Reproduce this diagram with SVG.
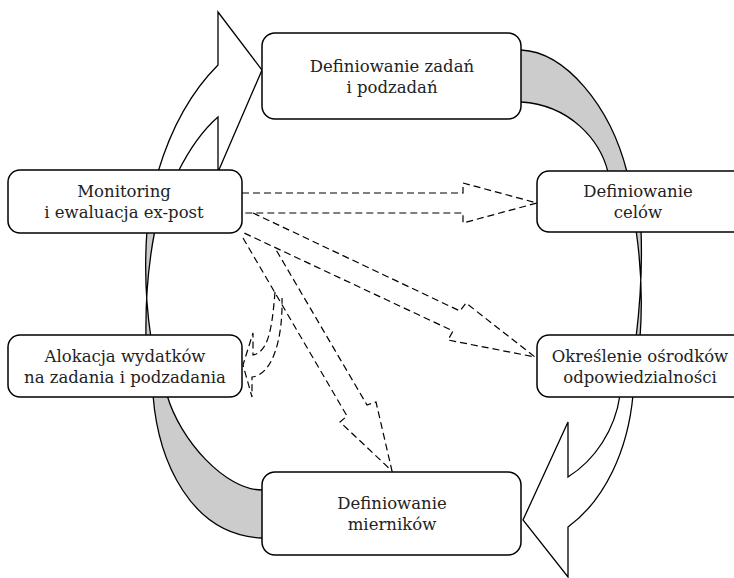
<svg xmlns="http://www.w3.org/2000/svg" width="734" height="578" viewBox="0 0 734 578">
<style>
.ring{stroke:#000;stroke-width:1.3;stroke-linejoin:miter}
.gray{fill:#cccccc}
.white{fill:#ffffff}
.dash{fill:none;stroke:#000;stroke-width:1.2;stroke-dasharray:7 4}
.box{fill:#fff;stroke:#000;stroke-width:1.5}
text{font-family:"DejaVu Serif","Liberation Serif",serif;font-size:16.5px;fill:#222;text-anchor:middle}
</style>
<rect x="0" y="0" width="734" height="578" fill="#fff"/>
<g id="connectors">
  <!-- ring segments -->
  <path class="ring white" d="M158,172 Q178,105 218,65 L218,12 L262,70 L218,172 L218,117 Q196,136 178,172 Z"/>
  <path class="ring gray" d="M515,50 L521,50 C565,52 610,105 627,172 L608,172 C600,140 570,105 521,102 L515,102 Z"/>
  <path class="ring gray" d="M147,230 Q143,285 151,338 L146,338 Q145,280 155,230 Z"/>
  <path class="ring gray" d="M636,230 Q644,285 640,338 L636,338 Q643,280 641,230 Z"/>
  <path class="ring white" d="M633,395 C628,450 605,500 568,527 L568,577 L523,520 L568,422 L568,477 C595,460 615,430 620,395 Z"/>
  <path class="ring gray" d="M153,395 C158,460 190,535 262,538 L268,538 L268,490 L262,490 C225,490 180,440 167,395 Z"/>
  <!-- dashed block arrows -->
  <path class="dash" d="M242,193 L463,193 L463,183 L537,203 L463,223 L463,213 L242,213"/>
  <path class="dash" d="M253,213 L460,311 L466,303 L535,357 L448,340 L453,331 L242,232"/>
  <path class="dash" d="M243,238 L347,416 L340,422 L392,471 L376,402 L367,405 L275,248"/>
  <path class="dash" d="M275,292 C272,330 268,352 253,355 L253,333 L243,365 L252,397 L252,377 C272,375 283,340 282,298"/>
</g>
<g id="node-zadania">
  <rect class="box" x="262" y="33" width="259" height="86" rx="13"/>
  <text x="392" y="71.5">Definiowanie zadań</text>
  <text x="392" y="92.5">i podzadań</text>
</g>
<g id="node-monitoring">
  <rect class="box" x="8" y="170" width="234" height="63" rx="12"/>
  <text x="124" y="197">Monitoring</text>
  <text x="124" y="218">i ewaluacja ex-post</text>
</g>
<g id="node-cele">
  <rect class="box" x="537" y="171" width="210" height="61" rx="12"/>
  <text x="638" y="197">Definiowanie</text>
  <text x="638" y="218">celów</text>
</g>
<g id="node-alokacja">
  <rect class="box" x="8" y="335" width="234" height="62" rx="12"/>
  <text x="125" y="361.5">Alokacja wydatków</text>
  <text x="125" y="382.5">na zadania i podzadania</text>
</g>
<g id="node-osrodki">
  <rect class="box" x="537" y="335" width="210" height="62" rx="12"/>
  <text x="640" y="361.5">Określenie ośrodków</text>
  <text x="640" y="382.5">odpowiedzialności</text>
</g>
<g id="node-mierniki">
  <rect class="box" x="262" y="472" width="259" height="83" rx="13"/>
  <text x="392" y="509">Definiowanie</text>
  <text x="392" y="530">mierników</text>
</g>
</svg>
